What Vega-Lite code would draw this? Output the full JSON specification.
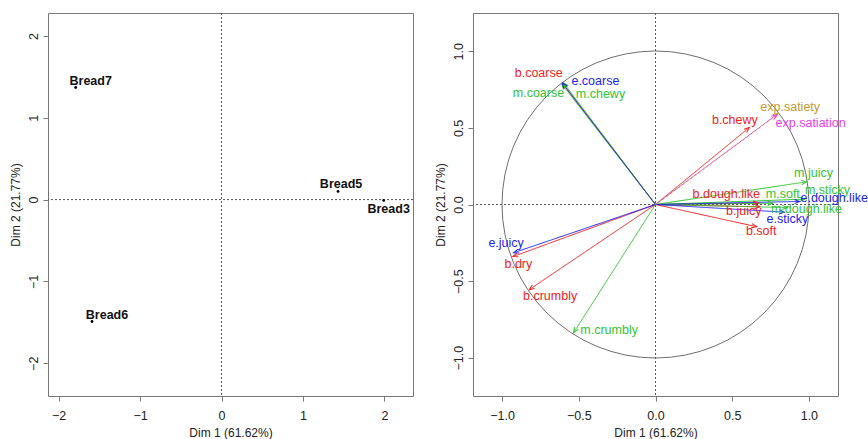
{
  "$schema": "https://vega.github.io/schema/vega-lite/v6.json",
  "background": "white",
  "padding": {"left": 8, "top": 12, "right": 5, "bottom": 0},
  "bounds": "flush",
  "spacing": 60,
  "config": {
    "font": "Liberation Sans",
    "view": {"stroke": "#777777", "strokeWidth": 1},
    "axis": {
      "domain": false,
      "grid": false,
      "tickColor": "#777777",
      "tickSize": 5,
      "labelFont": "Liberation Sans",
      "labelFontSize": 12.5,
      "labelColor": "#222222",
      "titleFont": "Liberation Sans",
      "titleFontSize": 12,
      "titleFontWeight": "normal",
      "titleColor": "#222222"
    },
    "axisX": {"labelPadding": 8, "titlePadding": 6},
    "axisY": {"labelAngle": -90, "labelAlign": "center", "labelBaseline": "bottom", "labelPadding": 3, "titlePadding": 5},
    "text": {"font": "Liberation Sans", "fontSize": 12.5}
  },
  "datasets": {
    "origin": [{"x": 0, "y": 0}],
    "breads": [
      {"bread": "Bread7", "dim1": -1.79, "dim2": 1.37},
      {"bread": "Bread6", "dim1": -1.59, "dim2": -1.49},
      {"bread": "Bread5", "dim1": 1.43, "dim2": 0.10},
      {"bread": "Bread3", "dim1": 1.99, "dim2": -0.01}
    ],
    "vars": [
      {"var": "b.coarse", "block": "b", "kind": "active", "x": -0.605, "y": 0.79},
      {"var": "b.chewy", "block": "b", "kind": "active", "x": 0.612, "y": 0.503},
      {"var": "b.dough.like", "block": "b", "kind": "active", "x": 0.67, "y": 0.01},
      {"var": "b.juicy", "block": "b", "kind": "active", "x": 0.68, "y": -0.015},
      {"var": "b.soft", "block": "b", "kind": "active", "x": 0.66, "y": -0.145},
      {"var": "b.dry", "block": "b", "kind": "active", "x": -0.93, "y": -0.34},
      {"var": "b.crumbly", "block": "b", "kind": "active", "x": -0.824, "y": -0.556},
      {"var": "m.coarse", "block": "m", "kind": "active", "x": -0.61, "y": 0.785},
      {"var": "m.chewy", "block": "m", "kind": "active", "x": -0.6, "y": 0.795},
      {"var": "m.juicy", "block": "m", "kind": "active", "x": 0.985, "y": 0.148},
      {"var": "m.sticky", "block": "m", "kind": "active", "x": 0.975, "y": 0.035},
      {"var": "m.soft", "block": "m", "kind": "active", "x": 0.765, "y": 0.008},
      {"var": "m.dough.like", "block": "m", "kind": "active", "x": 0.86, "y": -0.02},
      {"var": "m.crumbly", "block": "m", "kind": "active", "x": -0.534, "y": -0.837},
      {"var": "e.coarse", "block": "e", "kind": "active", "x": -0.607, "y": 0.792},
      {"var": "e.juicy", "block": "e", "kind": "active", "x": -0.925, "y": -0.315},
      {"var": "e.dough.like", "block": "e", "kind": "active", "x": 0.94, "y": 0.02},
      {"var": "e.sticky", "block": "e", "kind": "active", "x": 0.84, "y": -0.05},
      {"var": "exp.satiety", "block": "exp.satiety", "kind": "supplementary", "x": 0.8, "y": 0.595},
      {"var": "exp.satiation", "block": "exp.satiation", "kind": "supplementary", "x": 0.79, "y": 0.585}
    ]
  },
  "hconcat": [
    {
      "width": 365,
      "height": 383,
      "layer": [
        {
          "data": {"name": "origin"},
          "mark": {"type": "rule", "color": "#555555", "strokeDash": [2, 2], "strokeWidth": 1},
          "encoding": {
            "x": {"field": "x", "type": "quantitative", "scale": {"domain": [-2.13, 2.35], "nice": false, "zero": false}, "axis": {"values": [-2, -1, 0, 1, 2], "title": "Dim 1 (61.62%)"}}
          }
        },
        {
          "data": {"name": "origin"},
          "mark": {"type": "rule", "color": "#555555", "strokeDash": [2, 2], "strokeWidth": 1},
          "encoding": {
            "y": {"field": "y", "type": "quantitative", "scale": {"domain": [-2.4, 2.28], "nice": false, "zero": false}, "axis": {"values": [-2, -1, 0, 1, 2], "title": "Dim 2 (21.77%)"}}
          }
        },
        {
          "data": {"name": "breads"},
          "encoding": {
            "x": {"field": "dim1", "type": "quantitative", "scale": {"domain": [-2.13, 2.35], "nice": false, "zero": false}, "axis": {"values": [-2, -1, 0, 1, 2], "title": "Dim 1 (61.62%)"}},
            "y": {"field": "dim2", "type": "quantitative", "scale": {"domain": [-2.4, 2.28], "nice": false, "zero": false}, "axis": {"values": [-2, -1, 0, 1, 2], "title": "Dim 2 (21.77%)"}}
          },
          "layer": [
            {"mark": {"type": "point", "filled": true, "size": 8, "color": "#000000", "opacity": 1}},
            {"transform": [{"filter": "datum.bread === 'Bread7'"}], "mark": {"type": "text", "fontWeight": "bold", "fontSize": 12.5, "color": "#111111", "align": "center", "baseline": "middle", "dx": 15, "dy": -6}, "encoding": {"text": {"field": "bread", "type": "nominal"}}},
            {"transform": [{"filter": "datum.bread === 'Bread6'"}], "mark": {"type": "text", "fontWeight": "bold", "fontSize": 12.5, "color": "#111111", "align": "center", "baseline": "middle", "dx": 15, "dy": -7}, "encoding": {"text": {"field": "bread", "type": "nominal"}}},
            {"transform": [{"filter": "datum.bread === 'Bread5'"}], "mark": {"type": "text", "fontWeight": "bold", "fontSize": 12.5, "color": "#111111", "align": "center", "baseline": "middle", "dx": 3, "dy": -7.5}, "encoding": {"text": {"field": "bread", "type": "nominal"}}},
            {"transform": [{"filter": "datum.bread === 'Bread3'"}], "mark": {"type": "text", "fontWeight": "bold", "fontSize": 12.5, "color": "#111111", "align": "center", "baseline": "middle", "dx": 5, "dy": 8.5}, "encoding": {"text": {"field": "bread", "type": "nominal"}}}
          ]
        }
      ]
    },
    {
      "width": 365,
      "height": 383,
      "layer": [
        {
          "data": {"name": "origin"},
          "mark": {"type": "rule", "color": "#555555", "strokeDash": [2, 2], "strokeWidth": 1},
          "encoding": {
            "x": {"field": "x", "type": "quantitative", "scale": {"domain": [-1.19, 1.19], "nice": false, "zero": false}, "axis": {"values": [-1, -0.5, 0, 0.5, 1], "format": ".1f", "title": "Dim 1 (61.62%)"}}
          }
        },
        {
          "data": {"name": "origin"},
          "mark": {"type": "rule", "color": "#555555", "strokeDash": [2, 2], "strokeWidth": 1},
          "encoding": {
            "y": {"field": "y", "type": "quantitative", "scale": {"domain": [-1.25, 1.25], "nice": false, "zero": false}, "axis": {"values": [-1, -0.5, 0, 0.5, 1], "format": ".1f", "title": "Dim 2 (21.77%)"}}
          }
        },
        {
          "data": {"name": "origin"},
          "mark": {"type": "point", "shape": "circle", "size": 94250, "filled": false, "color": "#6e6e6e", "strokeWidth": 1, "opacity": 1},
          "encoding": {
            "x": {"field": "x", "type": "quantitative", "scale": {"domain": [-1.19, 1.19], "nice": false, "zero": false}, "axis": {"values": [-1, -0.5, 0, 0.5, 1], "format": ".1f", "title": "Dim 1 (61.62%)"}},
            "y": {"field": "y", "type": "quantitative", "scale": {"domain": [-1.25, 1.25], "nice": false, "zero": false}, "axis": {"values": [-1, -0.5, 0, 0.5, 1], "format": ".1f", "title": "Dim 2 (21.77%)"}}
          }
        },
        {
          "data": {"name": "vars"},
          "mark": {"type": "rule", "strokeWidth": 1},
          "encoding": {
            "x": {"field": "x", "type": "quantitative", "scale": {"domain": [-1.19, 1.19], "nice": false, "zero": false}, "axis": {"values": [-1, -0.5, 0, 0.5, 1], "format": ".1f", "title": "Dim 1 (61.62%)"}},
            "y": {"field": "y", "type": "quantitative", "scale": {"domain": [-1.25, 1.25], "nice": false, "zero": false}, "axis": {"values": [-1, -0.5, 0, 0.5, 1], "format": ".1f", "title": "Dim 2 (21.77%)"}},
            "x2": {"datum": 0},
            "y2": {"datum": 0},
            "color": {"field": "block", "type": "nominal", "scale": {"domain": ["b", "m", "e", "exp.satiety", "exp.satiation"], "range": ["#ee2222", "#33c333", "#2222ee", "#c49a32", "#e83ee8"]}, "legend": null},
            "strokeDash": {"field": "kind", "type": "nominal", "scale": {"domain": ["active", "supplementary"], "range": [[1, 0], [3, 2]]}, "legend": null}
          }
        },
        {
          "data": {"name": "vars"},
          "transform": [{"calculate": "atan2(datum.x, datum.y) * 180 / PI", "as": "heading"}],
          "mark": {"type": "point", "shape": "M -0.4 1 L 0 0 L 0.4 1", "size": 110, "filled": false, "strokeWidth": 1, "opacity": 1},
          "encoding": {
            "x": {"field": "x", "type": "quantitative"},
            "y": {"field": "y", "type": "quantitative"},
            "angle": {"field": "heading", "type": "quantitative", "scale": null},
            "color": {"field": "block", "type": "nominal", "legend": null}
          }
        },
        {
          "data": {"name": "vars"},
          "encoding": {
            "x": {"field": "x", "type": "quantitative"},
            "y": {"field": "y", "type": "quantitative"},
            "text": {"field": "var", "type": "nominal"},
            "color": {"field": "block", "type": "nominal", "legend": null}
          },
          "layer": [
            {"transform": [{"filter": "datum.var === 'b.coarse'"}], "mark": {"type": "text", "align": "center", "baseline": "middle", "dx": -24, "dy": -10}},
            {"transform": [{"filter": "datum.var === 'm.coarse'"}], "mark": {"type": "text", "align": "center", "baseline": "middle", "dx": -23.5, "dy": 8.5}},
            {"transform": [{"filter": "datum.var === 'e.coarse'"}], "mark": {"type": "text", "align": "center", "baseline": "middle", "dx": 33, "dy": -2.5}},
            {"transform": [{"filter": "datum.var === 'm.chewy'"}], "mark": {"type": "text", "align": "center", "baseline": "middle", "dx": 37, "dy": 11.5}},
            {"transform": [{"filter": "datum.var === 'b.chewy'"}], "mark": {"type": "text", "align": "center", "baseline": "middle", "dx": -14.5, "dy": -7}},
            {"transform": [{"filter": "datum.var === 'exp.satiety'"}], "mark": {"type": "text", "align": "center", "baseline": "middle", "dx": 12, "dy": -6}},
            {"transform": [{"filter": "datum.var === 'exp.satiation'"}], "mark": {"type": "text", "align": "center", "baseline": "middle", "dx": 34, "dy": 8.5}},
            {"transform": [{"filter": "datum.var === 'm.juicy'"}], "mark": {"type": "text", "align": "center", "baseline": "middle", "dx": 7, "dy": -8.5}},
            {"transform": [{"filter": "datum.var === 'm.sticky'"}], "mark": {"type": "text", "align": "center", "baseline": "middle", "dx": 22.5, "dy": -9.5}},
            {"transform": [{"filter": "datum.var === 'e.dough.like'"}], "mark": {"type": "text", "align": "center", "baseline": "middle", "dx": 34.5, "dy": -3.5}},
            {"transform": [{"filter": "datum.var === 'm.soft'"}], "mark": {"type": "text", "align": "center", "baseline": "middle", "dx": 10, "dy": -9.5}},
            {"transform": [{"filter": "datum.var === 'b.dough.like'"}], "mark": {"type": "text", "align": "center", "baseline": "middle", "dx": -32, "dy": -9}},
            {"transform": [{"filter": "datum.var === 'm.dough.like'"}], "mark": {"type": "text", "align": "center", "baseline": "middle", "dx": 19, "dy": 1}},
            {"transform": [{"filter": "datum.var === 'b.juicy'"}], "mark": {"type": "text", "align": "center", "baseline": "middle", "dx": -16, "dy": 4}},
            {"transform": [{"filter": "datum.var === 'e.sticky'"}], "mark": {"type": "text", "align": "center", "baseline": "middle", "dx": 3, "dy": 7}},
            {"transform": [{"filter": "datum.var === 'b.soft'"}], "mark": {"type": "text", "align": "center", "baseline": "middle", "dx": 4.5, "dy": 4.5}},
            {"transform": [{"filter": "datum.var === 'e.juicy'"}], "mark": {"type": "text", "align": "center", "baseline": "middle", "dx": -7.5, "dy": -10}},
            {"transform": [{"filter": "datum.var === 'b.dry'"}], "mark": {"type": "text", "align": "center", "baseline": "middle", "dx": 5.5, "dy": 7}},
            {"transform": [{"filter": "datum.var === 'b.crumbly'"}], "mark": {"type": "text", "align": "center", "baseline": "middle", "dx": 21, "dy": 6}},
            {"transform": [{"filter": "datum.var === 'm.crumbly'"}], "mark": {"type": "text", "align": "center", "baseline": "middle", "dx": 35.5, "dy": -3}}
          ]
        }
      ]
    }
  ]
}
